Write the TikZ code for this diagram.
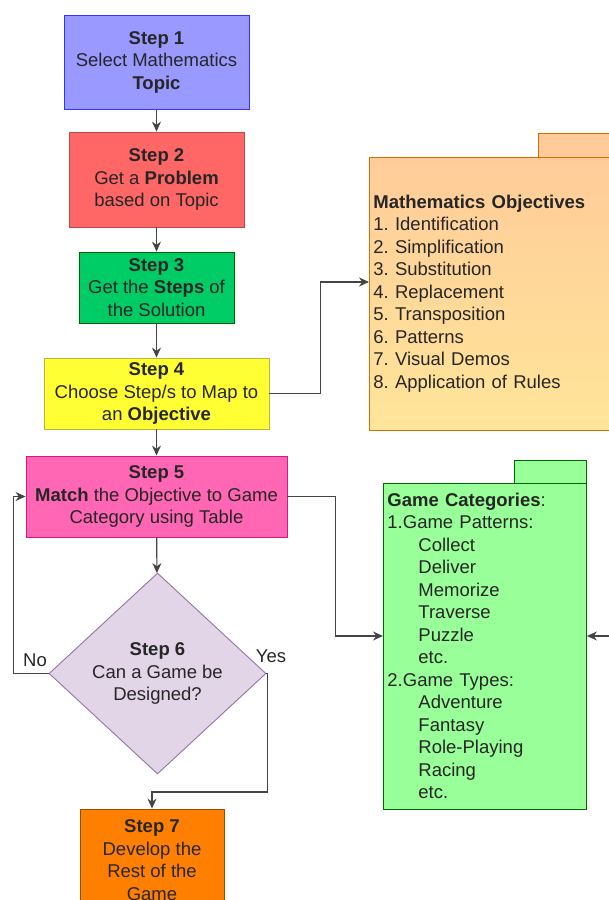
\documentclass[tikz,border=0pt]{standalone}
\usepackage{fontspec}
\setmainfont{Liberation Sans}
\usepackage{xcolor}
\usetikzlibrary{shapes.geometric,arrows.meta}
\frenchspacing

\definecolor{stepblue}{HTML}{9999FF}
\definecolor{stepred}{HTML}{FF6666}
\definecolor{stepgreen}{HTML}{00CC66}
\definecolor{stepyellow}{HTML}{FFFF33}
\definecolor{steppink}{HTML}{FF66B3}
\definecolor{steplilac}{HTML}{E1D5E7}
\definecolor{steporange}{HTML}{FF8000}
\definecolor{objtop}{HTML}{FFCC99}
\definecolor{objbot}{HTML}{FFE599}
\definecolor{catgreen}{HTML}{99FF99}
\definecolor{linegray}{HTML}{444444}

\begin{document}
\begin{tikzpicture}[x=1pt,y=-1pt,
		every node/.style={font=\fontsize{18.5}{22.5}\selectfont, text=black!85},
		stepbox/.style={rectangle, draw, line width=0.9pt, align=center, inner sep=0pt},
		folder/.style={rectangle, draw, line width=0.9pt, align=left, anchor=west, inner sep=4pt},
		arr/.style={draw=linegray, line width=1.2pt, -{Stealth[length=10pt,width=9pt]}}]
		\useasboundingbox (0,0) rectangle (609,900);
		
		\node [stepbox, fill=stepblue, draw=blue!80, minimum width=185pt, minimum height=94pt] (s1) at (156.5,62) {\textbf{Step 1}\\Select Mathematics\\\textbf{Topic}};
		\node [stepbox, fill=stepred, draw=red!60!black!70, minimum width=175pt, minimum height=95pt] (s2) at (156.5,179.5) {\textbf{Step 2}\\Get a \textbf{Problem}\\based on Topic};
		\node [stepbox, fill=stepgreen, draw=green!40!black, minimum width=155pt, minimum height=71pt] (s3) at (156.5,287.5) {\textbf{Step 3}\\Get the \textbf{Steps} of\\the Solution};
		\node [stepbox, fill=stepyellow, draw=yellow!70!black, minimum width=225pt, minimum height=71pt] (s4) at (156.5,393.5) {\textbf{Step 4}\\Choose Step/s to Map to\\an \textbf{Objective}};
		\node [stepbox, fill=steppink, draw=magenta!90!black, minimum width=261pt, minimum height=81pt] (s5) at (156.5,496.5) {\textbf{Step 5}\\\textbf{Match} the Objective to Game\\Category using Table};
		\node [stepbox, diamond, fill=steplilac, draw={rgb,255:red,150;green,115;blue,166}, minimum width=217pt, minimum height=201pt] (s6) at (157.5,673.5) {\textbf{Step 6}\\Can a Game be\\Designed?};
		\node [stepbox, fill=steporange, draw=orange!60!black, minimum width=144pt, minimum height=102pt] (s7) at (152,860) {\textbf{Step 7}\\Develop the\\Rest of the\\Game};
		
		% folders
		\draw [fill=objtop, draw=orange!85!black, line width=0.9pt] (538,133) rectangle (640,157);
		\node [folder, top color=objtop, bottom color=objbot, draw=orange!85!black, minimum width=271pt, minimum height=273pt, text width=263pt] (obj) at (369,293.5) {\textbf{Mathematics Objectives}\\1. Identification\\2. Simplification\\3. Substitution\\4. Replacement\\5. Transposition\\6. Patterns\\7. Visual Demos\\8. Application of Rules};
		
		\draw [fill=catgreen, draw=green!40!black, line width=0.9pt] (514,460) rectangle (586,483);
		\node [folder, fill=catgreen, draw=green!40!black, minimum width=203pt, minimum height=326pt, text width=195pt] (cat) at (383,646) {\textbf{Game Categories}:\\1.Game Patterns:\\\hspace*{31pt}Collect\\\hspace*{31pt}Deliver\\\hspace*{31pt}Memorize\\\hspace*{31pt}Traverse\\\hspace*{31pt}Puzzle\\\hspace*{31pt}etc.\\2.Game Types:\\\hspace*{31pt}Adventure\\\hspace*{31pt}Fantasy\\\hspace*{31pt}Role-Playing\\\hspace*{31pt}Racing\\\hspace*{31pt}etc.};
		\coordinate (rin) at (609,636);
		
		\draw [arr] (s1) -- (s2);
		\draw [arr] (s2) -- (s3);
		\draw [arr] (s3) -- (s4);
		\draw [arr] (s4) -- (s5);
		\draw [arr] (s5) -- (s6);
		\draw [arr] (s4.east) -- ++(51,0) |- ([yshift=11.5pt]obj.west);
		\draw [arr] (s5.east) -- ++(48,0) |- ([yshift=10pt]cat.west);
		\draw [arr] (rin) -- ([yshift=10pt]cat.east);
		\draw [arr] (s6.west) -- ++(-35,0) |- (s5.west);
		\draw [arr] (s6.east) -- ++(1,0) -- ++(0,118.5) -| (s7.north);
		\node (no) at (35,660) {No};
		\node (yes) at (271,656) {Yes};
		
\end{tikzpicture}
\end{document}
